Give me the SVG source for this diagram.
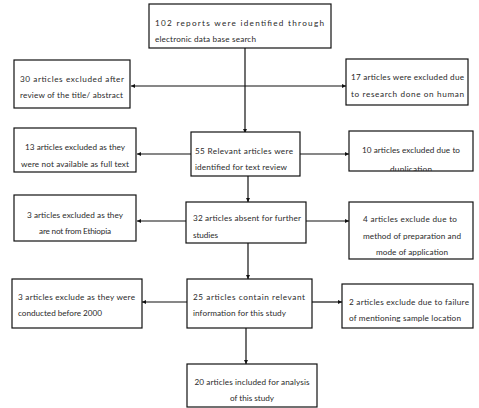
<svg xmlns="http://www.w3.org/2000/svg" width="479" height="408" viewBox="0 0 479 408">
<style>
.box{fill:#fff;stroke:#111;stroke-width:1.2}
.t{font-family:Lato,"Liberation Sans",sans-serif;font-size:8.2px;fill:#2a2a2a}
.c{text-anchor:middle}
.ln{stroke:#111;stroke-width:1.2;fill:none}
</style>
<defs>
<marker id="ah" viewBox="0 0 6 6" refX="6" refY="3" markerWidth="4" markerHeight="4" markerUnits="userSpaceOnUse" orient="auto-start-reverse">
<path d="M0,0 L6,3 L0,6 z" fill="#111"/>
</marker>
<clipPath id="cp10"><rect x="349" y="131" width="124" height="40"/></clipPath>
</defs>
<rect width="479" height="408" fill="#fff"/>
<g id="connectors">
<path class="ln" d="M245,48 V133" marker-end="url(#ah)"/>
<path class="ln" d="M131,86 H346" marker-start="url(#ah)" marker-end="url(#ah)"/>
<path class="ln" d="M191,154 H137" marker-end="url(#ah)"/>
<path class="ln" d="M300,154 H349" marker-end="url(#ah)"/>
<path class="ln" d="M248,176 V202" marker-end="url(#ah)"/>
<path class="ln" d="M186,221 H137" marker-end="url(#ah)"/>
<path class="ln" d="M306,221 H349" marker-end="url(#ah)"/>
<path class="ln" d="M248,243 V279" marker-end="url(#ah)"/>
<path class="ln" d="M187,302 H142" marker-end="url(#ah)"/>
<path class="ln" d="M312,302 H342" marker-end="url(#ah)"/>
<path class="ln" d="M246,328 V364" marker-end="url(#ah)"/>
</g>
<g id="n1">
<rect class="box" x="149" y="4" width="182" height="44"/>
<text class="t" x="155" y="26" textLength="169">102 reports were identified through</text>
<text class="t" x="155" y="42" textLength="101">electronic data base search</text>
</g>
<g id="n30">
<rect class="box" x="14" y="60" width="116" height="48"/>
<text class="t" x="20" y="82" textLength="104">30 articles excluded after</text>
<text class="t" x="20" y="98" textLength="103">review of the title/ abstract</text>
</g>
<g id="n17">
<rect class="box" x="346" y="59" width="122" height="46"/>
<text class="t" x="351" y="80" textLength="113">17 articles were excluded due</text>
<text class="t" x="351" y="97" textLength="113">to research done on human</text>
</g>
<g id="n13">
<rect class="box" x="14" y="128" width="122" height="44"/>
<text class="t c" x="75" y="150" textLength="100">13 articles excluded as they</text>
<text class="t c" x="75" y="166.5" textLength="108">were not available as full text</text>
</g>
<g id="n55">
<rect class="box" x="191" y="132" width="109" height="44"/>
<text class="t" x="195" y="154" textLength="98">55 Relevant articles were</text>
<text class="t" x="195" y="170" textLength="92">identified for text review</text>
</g>
<g id="n10">
<rect class="box" x="349" y="131" width="124" height="40"/>
<text class="t c" x="411" y="153" textLength="98">10 articles excluded due to</text>
<text class="t c" x="411" y="172.3" textLength="42" clip-path="url(#cp10)">duplication</text>
</g>
<g id="n3a">
<rect class="box" x="14" y="195" width="122" height="46"/>
<text class="t c" x="75" y="217.5" textLength="96">3 articles excluded as they</text>
<text class="t c" x="75" y="233.5" textLength="72">are not from Ethiopia</text>
</g>
<g id="n32">
<rect class="box" x="186" y="202" width="120" height="41"/>
<text class="t" x="193" y="221" textLength="108">32 articles absent for further</text>
<text class="t" x="193" y="238" textLength="25">studies</text>
</g>
<g id="n4">
<rect class="box" x="349" y="202" width="124" height="57"/>
<text class="t c" x="410" y="222" textLength="94">4 articles exclude due to</text>
<text class="t c" x="412" y="239" textLength="98">method of preparation and</text>
<text class="t c" x="412" y="255" textLength="72">mode of application</text>
</g>
<g id="n3b">
<rect class="box" x="12" y="279" width="130" height="49"/>
<text class="t" x="18" y="300" textLength="117">3 articles exclude as they were</text>
<text class="t" x="18" y="315.5" textLength="84">conducted before 2000</text>
</g>
<g id="n25">
<rect class="box" x="187" y="279" width="125" height="49"/>
<text class="t" x="193" y="300" textLength="112">25 articles contain relevant</text>
<text class="t" x="193" y="316" textLength="93">information for this study</text>
</g>
<g id="n2">
<rect class="box" x="342" y="284" width="131" height="44"/>
<text class="t" x="349" y="305" textLength="120">2 articles exclude due to failure</text>
<text class="t" x="349" y="321" textLength="112">of mentioning sample location</text>
</g>
<g id="n20">
<rect class="box" x="187" y="364" width="130" height="43"/>
<text class="t c" x="252" y="385" textLength="115">20 articles included for analysis</text>
<text class="t c" x="252" y="401" textLength="44">of this study</text>
</g>
</svg>
